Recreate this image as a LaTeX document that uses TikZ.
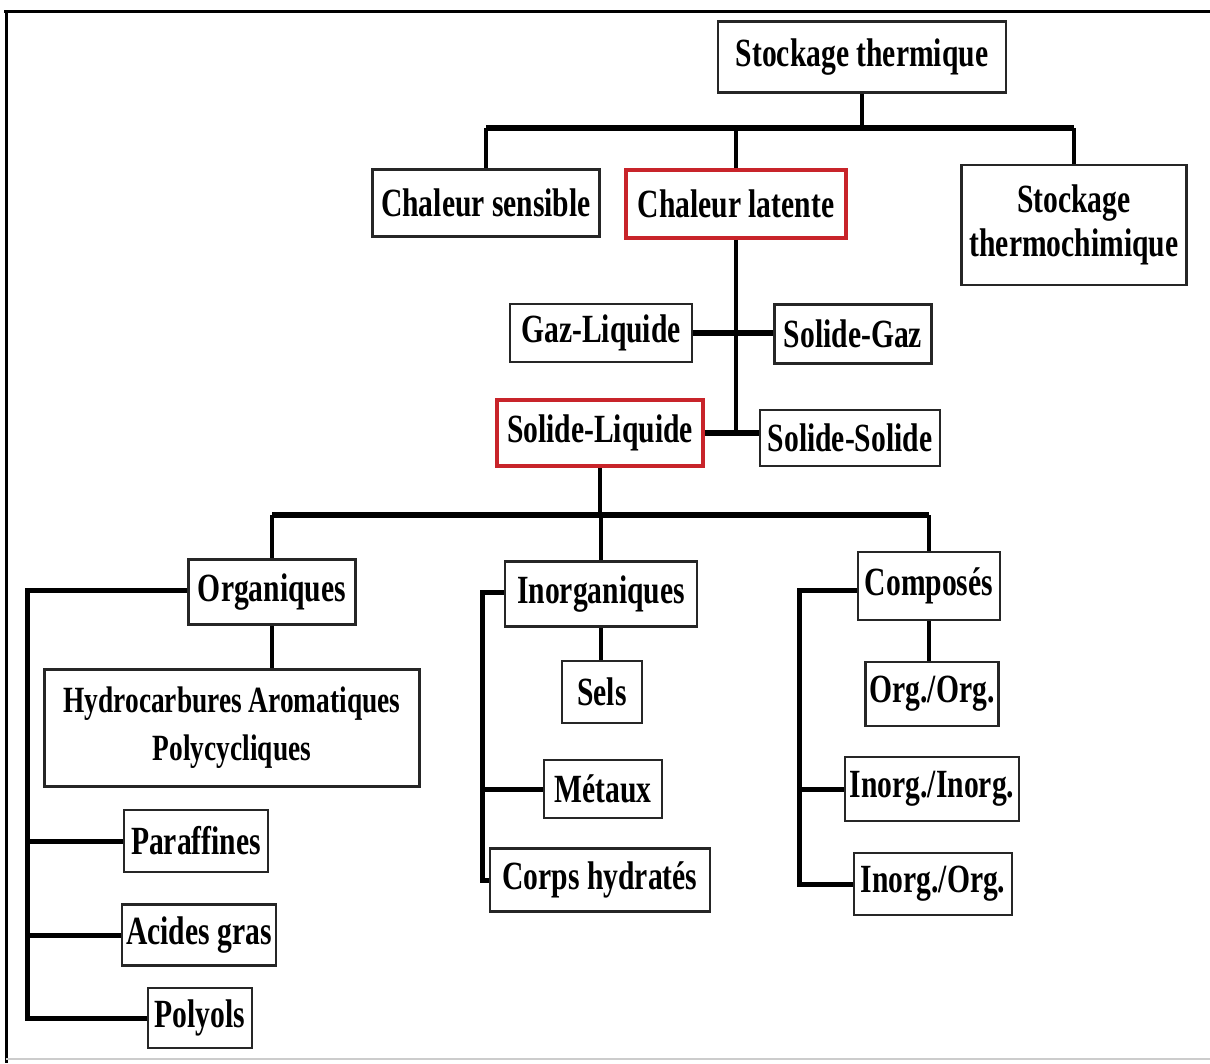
\documentclass[tikz,border=0pt]{standalone}
\usepackage{fontspec}
\setmainfont{Liberation Serif}[FakeStretch=0.74]
\usepackage{tikz}
\usepackage{xcolor}
\definecolor{latentred}{RGB}{200,36,42}
\tikzset{box/.style={draw=black!85, line width=2.5pt, fill=white, inner sep=4pt,
   align=center, font=\fontsize{40}{44}\selectfont\bfseries},
 redbox/.style={box, draw=latentred, line width=3.5pt},
 link/.style={line width=3.5pt},
 bus/.style={line width=6.5pt},
 rail/.style={line width=5pt},
 }

\begin{document}
\begin{tikzpicture}[x=1pt, y=-1pt]
        \useasboundingbox (0,0) rectangle (1210,1063);
        \draw[line width=3pt] (4,11) -- (1210,11);
        \draw[line width=3pt] (6,11) -- (6,1063);
        \draw[line width=2pt, black!20] (6,1059) -- (1210,1059);

        \node[box, minimum width=288, minimum height=71] (root) at (862,57) {Stockage thermique};
        \node[box, minimum width=227, minimum height=67] (sens) at (486,203) {Chaleur sensible};
        \node[redbox, minimum width=220, minimum height=68] (latent) at (736,204) {Chaleur latente};
        \node[box, minimum width=225, minimum height=120] (thermo) at (1074,225) {Stockage\\thermochimique};

        \node[box, minimum width=182, minimum height=58] (gl) at (601,333) {Gaz-Liquide};
        \node[box, minimum width=157, minimum height=59] (sg) at (853,334) {Solide-Gaz};
        \node[redbox, minimum width=206, minimum height=66] (sl) at (600,433) {Solide-Liquide};
        \node[box, minimum width=180, minimum height=56] (ss) at (850,438) {Solide-Solide};

        \node[box, minimum width=167, minimum height=65] (org) at (272,592) {Organiques};
        \node[box, minimum width=192, minimum height=65] (inorg) at (601,594) {Inorganiques};
        \node[box, minimum width=142, minimum height=68] (comp) at (929,586) {Composés};

        \node[box, minimum width=375, minimum height=117,
              font=\fontsize{37}{48}\selectfont\bfseries] (hap) at (232,728) {Hydrocarbures Aromatiques\\Polycycliques};
        \node[box, minimum width=144, minimum height=62] (par) at (196,841) {Paraffines};
        \node[box, minimum width=154, minimum height=61] (acid) at (199,935) {Acides gras};
        \node[box, minimum width=104, minimum height=60] (poly) at (200,1018) {Polyols};

        \node[box, minimum width=80, minimum height=62] (sels) at (602,692) {Sels};
        \node[box, minimum width=118, minimum height=58] (met) at (603,789) {Métaux};
        \node[box, minimum width=220, minimum height=63] (corps) at (600,880) {Corps hydratés};

        \node[box, minimum width=132, minimum height=64] (oo) at (932,694) {Org./Org.};
        \node[box, minimum width=174, minimum height=64] (ii) at (932,789) {Inorg./Inorg.};
        \node[box, minimum width=158, minimum height=62] (io) at (933,884) {Inorg./Org.};

        % top level
        \coordinate (busA) at (862,128);
        \draw[bus] (sens.north |- busA) -- (thermo.north |- busA);
        \foreach \n in {root, sens, latent, thermo} {
            \draw[link] (\n) -- (\n |- busA);
        }

        % changements de phase
        \draw[link] (latent.south) -- (latent.south |- sl.east);
        \draw[bus] (gl.east) -- (gl.east -| sg.west);
        \draw[bus] (sl.east) -- (sl.east -| ss.west);

        % solide-liquide
        \coordinate (busB) at (600,515);
        \draw[link] (sl.south) -- (sl.south |- busB);
        \draw[bus] (org.north |- busB) -- (comp.north |- busB);
        \foreach \n in {org, inorg, comp} {
            \draw[link] (\n.north |- busB) -- (\n.north);
        }
        \draw[link] (org.south) -- (org.south |- hap.north);
        \draw[link] (inorg.south) -- (inorg.south |- sels.north);
        \draw[link] (comp.south) -- (comp.south |- oo.north);

        % rails
        \coordinate (orgrail) at (27,590);
        \draw[rail] (org.west |- orgrail) -- (orgrail) -- (orgrail |- poly.west) -- (poly.west);
        \foreach \n in {par, acid} {
            \draw[rail] (orgrail |- \n.west) -- (\n.west);
        }
        \coordinate (inorgrail) at (482,592);
        \draw[rail] (inorg.west |- inorgrail) -- (inorgrail) -- (inorgrail |- corps.west) -- (corps.west);
        \draw[rail] (inorgrail |- met.west) -- (met.west);
        \coordinate (comprail) at (799,590);
        \draw[rail] (comp.west |- comprail) -- (comprail) -- (comprail |- io.west) -- (io.west);
        \draw[rail] (comprail |- ii.west) -- (ii.west);
    \end{tikzpicture}
\end{document}
